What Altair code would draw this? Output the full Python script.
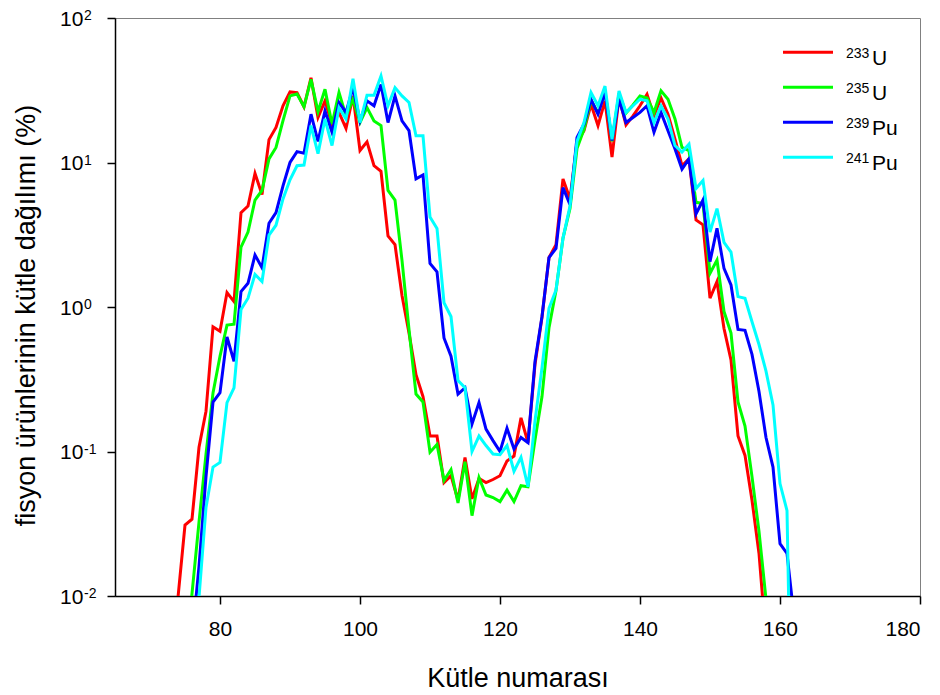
import altair as alt
import pandas as pd

FONT = "Liberation Sans"

series_names = ["233U", "235U", "239Pu", "241Pu"]
series_colors = ["#FF0000", "#00FF00", "#0000FF", "#00FFFF"]
legend_mass = ["233", "235", "239", "241"]
legend_elem = ["U", "U", "Pu", "Pu"]

# first mass number of each series, then its values (%)
red_start = 74
red_vals = [0.0098, 0.031, 0.034, 0.107, 0.19, 0.73, 0.68, 1.26, 1.09, 4.5,
            5.0, 8.4, 6.0, 14.4, 17.5, 24.7, 30.8, 30.4, 24.3, 38.6,
            20.5, 26.7, 18.4, 22.2, 17.2, 28.9, 12.1, 13.9, 9.5, 8.7,
            3.1, 2.7, 1.2, 0.66, 0.34, 0.24, 0.128, 0.128, 0.061, 0.068,
            0.046, 0.091, 0.047, 0.065, 0.061, 0.064, 0.068, 0.086, 0.093, 0.171,
            0.115, 0.40, 0.85, 2.2, 2.7, 7.7, 5.6, 13.8, 16.6, 25.3,
            18.0, 26.7, 10.9, 28.1, 18.2, 21.0, 24.7, 29.6, 21.0, 28.0,
            21.6, 14.5, 9.5, 10.6, 4.0, 3.7, 1.15, 1.5, 0.71, 0.43,
            0.128, 0.094, 0.046, 0.0197, 0.005]

green_start = 75
green_vals = [0.003, 0.0104, 0.0325, 0.096, 0.254, 0.456, 0.75, 0.76, 2.6, 3.3,
              5.5, 6.4, 10.6, 12.7, 19.5, 28.9, 29.8, 24.3, 37.6, 22.5,
              32.1, 18.4, 30.5, 21.0, 27.4, 18.9, 24.0, 19.4, 18.0, 6.4,
              5.5, 2.1, 0.70, 0.25, 0.22, 0.099, 0.112, 0.063, 0.075, 0.044,
              0.085, 0.036, 0.066, 0.050, 0.048, 0.045, 0.054, 0.045, 0.058, 0.057,
              0.12, 0.24, 0.72, 1.3, 3.0, 4.8, 12.5, 17.0, 27.0, 22.0,
              31.0, 14.0, 30.0, 22.0, 25.0, 28.9, 28.0, 22.2, 31.3, 27.4,
              20.0, 12.7, 12.1, 5.3, 5.2, 1.71, 2.11, 0.93, 0.66, 0.22,
              0.15, 0.067, 0.028, 0.0095, 0.003]

blue_start = 76
blue_vals = [0.005, 0.016, 0.067, 0.22, 0.255, 0.62, 0.42, 1.28, 1.46, 2.29,
             1.87, 3.8, 4.5, 6.9, 10.0, 11.9, 11.6, 21.6, 14.0, 22.8,
             16.2, 26.0, 22.2, 33.0, 19.4, 26.7, 24.7, 34.7, 18.9, 28.9,
             19.4, 16.6, 7.7, 8.2, 2.0, 1.75, 0.61, 0.456, 0.25, 0.276,
             0.155, 0.218, 0.143, 0.119, 0.10, 0.145, 0.104, 0.125, 0.115, 0.42,
             0.86, 2.2, 2.54, 6.7, 5.1, 14.9, 18.4, 27.4, 21.6, 30.5,
             14.2, 27.4, 18.9, 20.5, 22.2, 24.7, 16.2, 22.2, 16.6, 12.4,
             9.0, 10.6, 4.4, 5.5, 2.06, 3.5, 1.85, 1.42, 0.70, 0.69,
             0.47, 0.26, 0.125, 0.078, 0.023, 0.0197, 0.0072]

cyan_start = 76
cyan_vals = [0.003, 0.0098, 0.041, 0.078, 0.084, 0.218, 0.276, 0.96, 1.15, 1.68,
             1.5, 3.14, 3.68, 5.6, 7.6, 9.5, 9.6, 18.0, 11.5, 20.0,
             13.1, 24.0, 20.0, 38.0, 18.9, 29.2, 29.2, 39.7, 24.7, 33.0,
             28.9, 26.0, 15.3, 15.3, 4.2, 3.5, 1.07, 0.86, 0.31, 0.276,
             0.10, 0.128, 0.11, 0.096, 0.095, 0.11, 0.073, 0.091, 0.057, 0.163,
             0.38, 0.98, 1.31, 3.0, 5.0, 14.0, 18.9, 30.5, 24.7, 33.8,
             14.5, 31.3, 22.2, 24.7, 27.4, 26.7, 18.9, 24.7, 20.0, 13.1,
             11.8, 13.4, 6.6, 7.5, 3.3, 4.8, 2.8, 2.4, 1.18, 1.15,
             0.79, 0.55, 0.36, 0.21, 0.060, 0.039, 0.0001]

x_ticks = [80, 100, 120, 140, 160, 180]
y_tick_values = [100, 10, 1, 0.1, 0.01]
y_tick_exps = ["2", "1", "0", "-1", "-2"]

starts = [red_start, green_start, blue_start, cyan_start]
values = [red_vals, green_vals, blue_vals, cyan_vals]

x_scale = alt.Scale(domain=[65, 180], nice=False, zero=False)
y_scale = alt.Scale(type="log", domain=[0.01, 100], nice=False)

x_axis = alt.Axis(values=x_ticks, title="Kütle numarası", grid=False,
                  domainColor="black", domainWidth=1.5, tickColor="black",
                  tickSize=8, tickWidth=1.5, labelFontSize=21, labelFont=FONT,
                  labelColor="black", labelPadding=14, titleFontSize=27,
                  titleFont=FONT, titleFontWeight="normal", titleColor="black",
                  titleY=90, titleBaseline="alphabetic")
y_axis = alt.Axis(values=y_tick_values, labels=False,
                  title="fisyon ürünlerinin kütle dağılımı (%)", grid=False,
                  domainColor="black", domainWidth=1.5, tickColor="black",
                  tickSize=8, tickWidth=1.5, titleFontSize=27, titleFont=FONT,
                  titleFontWeight="normal", titleColor="black", titleAngle=-90,
                  titleX=-81, titleY=297, titleAlign="center",
                  titleBaseline="alphabetic")

layers = []
for i, (name, col, st, vals) in enumerate(zip(series_names, series_colors, starts, values)):
    d = pd.DataFrame({"A": list(range(st, st + len(vals))), "y": vals, "s": name})
    layers.append(
        alt.Chart(d).mark_line(color=col, strokeWidth=3, clip=True).encode(
            x=alt.X("A:Q", scale=x_scale, axis=x_axis),
            y=alt.Y("y:Q", scale=y_scale, axis=y_axis),
            order="A:Q",
        )
    )

tick_df = pd.DataFrame({"v": y_tick_values, "e": y_tick_exps})
layers.append(
    alt.Chart(tick_df).mark_text(text="10", align="left", baseline="alphabetic",
                                 dy=7.5, fontSize=21, font=FONT, color="black").encode(
        y=alt.Y("v:Q", scale=y_scale, axis=y_axis), x=alt.value(-55))
)
layers.append(
    alt.Chart(tick_df).mark_text(align="left", baseline="alphabetic", dy=2,
                                 fontSize=14, font=FONT, color="black").encode(
        y=alt.Y("v:Q", scale=y_scale, axis=y_axis), x=alt.value(-31), text="e:N")
)

one = pd.DataFrame({"k": [0]})
for i, (col, m, el) in enumerate(zip(series_colors, legend_mass, legend_elem)):
    ly = 34.3 + 35 * i
    layers.append(alt.Chart(one).mark_rule(color=col, strokeWidth=3).encode(
        x=alt.value(668), x2=alt.value(718), y=alt.value(ly)))
    layers.append(alt.Chart(one).mark_text(text=m, align="left", baseline="alphabetic",
                                           fontSize=14, font=FONT, color="black").encode(
        x=alt.value(731), y=alt.value(ly + 6)))
    layers.append(alt.Chart(one).mark_text(text=el, align="left", baseline="alphabetic",
                                           fontSize=21, font=FONT, color="black").encode(
        x=alt.value(757), y=alt.value(ly + 12.7)))

chart = alt.layer(*layers).properties(
    width=805, height=578,
    autosize=alt.AutoSizeParams(type="none"),
    padding={"left": 107, "top": 10, "right": 12, "bottom": 95},
).configure_view(stroke="#808080", strokeWidth=1)

chart.save("out.html", embed_options={"renderer": "svg", "actions": False})
